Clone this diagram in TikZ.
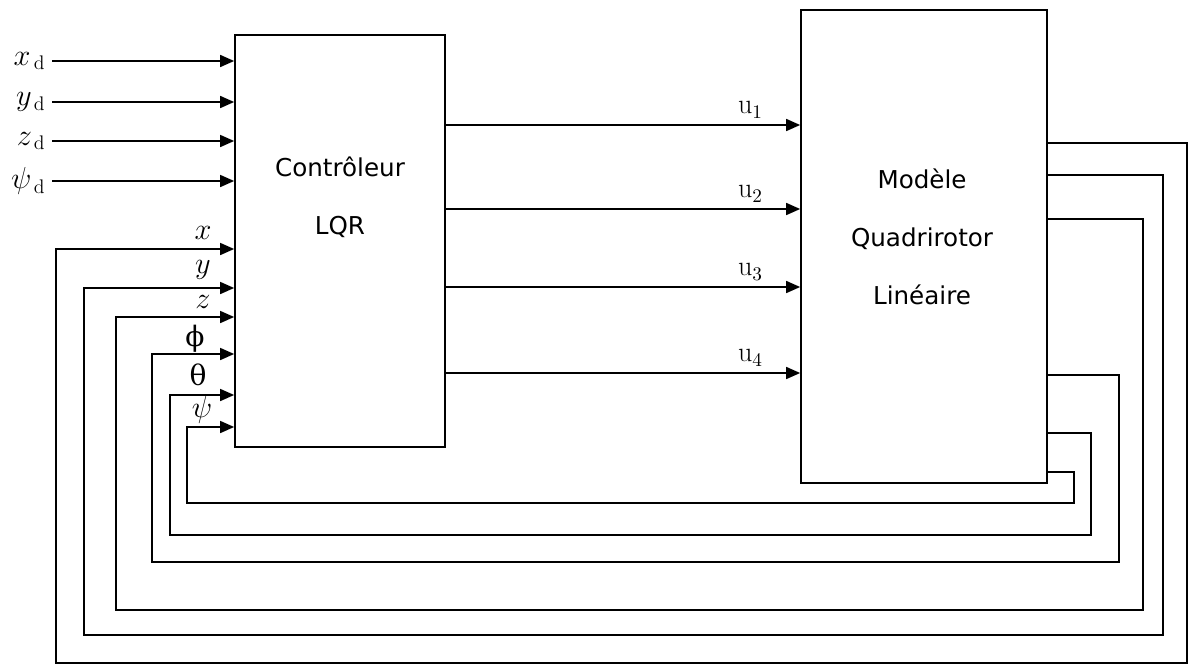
\documentclass[tikz,border=0pt]{standalone}
\usepackage{fontspec}
\newfontfamily\boxfont{DejaVu Sans}
\newfontfamily\grkfont{DejaVu Serif}
\usetikzlibrary{arrows.meta, positioning, calc}

\begin{document}
\begin{tikzpicture}[x=0.02cm, y=-0.02cm, >={Triangle[length=0.28cm, width=0.24cm]},
  line width=0.9pt,
  bloc/.style={draw, line width=1pt, inner sep=0pt},
  sig/.style={font=\fontsize{16}{16}\selectfont},
  boxtxt/.style={font=\boxfont\fontsize{14}{33}\selectfont, align=center}]
  \useasboundingbox (0,0) rectangle (1195,666);
  % blocs
  \node[bloc, minimum width=4.2cm, minimum height=8.24cm] (ctrl) at (340,241) {};
  \node[bloc, minimum width=4.92cm, minimum height=9.46cm] (plant) at (924,246.5) {};
  \node[boxtxt] (ctrltxt) at (340,197) {Contrôleur\\LQR};
  \node[boxtxt] (planttxt) at (922,237) {Modèle\\Quadrirotor\\Linéaire};
  % consignes
  \foreach \nm/\lab/\yy in {xd/x/61, yd/y/102, zd/z/141, psid/\psi/181} {
    \coordinate (\nm) at (52,\yy);
    \node[sig, left=0pt of \nm] (\nm lab) {$\lab_{\,\mathrm{d}}$};
    \draw[->] (\nm) -- (\nm -| ctrl.west);
  }
  % commandes u1..u4
  \foreach \i/\yy in {1/125, 2/209, 3/287, 4/373} {
    \coordinate (u\i) at (ctrl.east |- 0,\yy);
    \draw[->] (u\i) -- (u\i -| plant.west)
      node[sig, pos=0.86, above] (u\i lab) {$\mathrm{u}_{\i}$};
  }
  % retour d'etat
  \foreach \nm/\lab/\yo/\xr/\yb/\xl/\yi/\lx/\ly in {x/$x$/143/1187/663/56/249/203/233,
      y/$y$/175/1163/635/84/288/203/270, z/$z$/219/1143/610/116/317/203/302,
      phi/{\grkfont ϕ}/375/1119/562/152/354/195/339, theta/{\grkfont θ}/433/1091/535/170/395/198/375,
      psi/$\psi$/472/1074/503/187/427/202/410} {
    \coordinate (\nm out) at (plant.east |- 0,\yo);
    \coordinate (\nm in) at (ctrl.west |- 0,\yi);
    \draw[->] (\nm out) -| (\xr,\yb) -| (\xl,\yi) -- (\nm in);
    \node[sig, inner sep=1pt] (\nm lab) at (\lx,\ly) {\lab};
  }
\end{tikzpicture}
\end{document}
